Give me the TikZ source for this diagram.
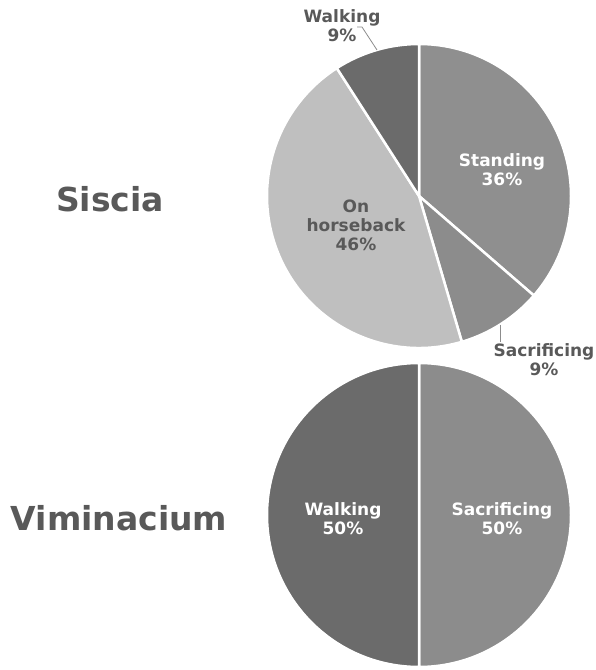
\documentclass[tikz,border=0pt]{standalone}
\usepackage{fontspec}
\setmainfont{DejaVu Sans}
\begin{document}
\begin{tikzpicture}[x=1pt,y=1pt,
  slice/.style={draw=white,line width=2.5pt,line join=round},
  lbl/.style={font=\bfseries\fontsize{17}{19}\selectfont,align=center,inner sep=0pt},
  ttl/.style={font=\bfseries\fontsize{33}{38}\selectfont,text=titlegray,inner sep=0pt},
  leader/.style={draw=leadgray,line width=0.8pt}]
\definecolor{titlegray}{HTML}{595959}
\definecolor{cStand}{HTML}{8F8F8F}
\definecolor{cSacr}{HTML}{8C8C8C}
\definecolor{cHorse}{HTML}{BFBFBF}
\definecolor{cWalk}{HTML}{6B6B6B}
\definecolor{leadgray}{HTML}{8C8C8C}
\useasboundingbox (0,0) rectangle (595,670);
% top pie
\coordinate (c1) at (419,474);
\filldraw[slice,fill=cStand] (c1) -- ++(90:152) arc[start angle=90,end angle=-40.909,radius=152] -- cycle;
\filldraw[slice,fill=cSacr] (c1) -- ++(-40.909:152) arc[start angle=-40.909,end angle=-73.636,radius=152] -- cycle;
\filldraw[slice,fill=cHorse] (c1) -- ++(-73.636:152) arc[start angle=-73.636,end angle=-237.273,radius=152] -- cycle;
\filldraw[slice,fill=cWalk] (c1) -- ++(122.727:152) arc[start angle=122.727,end angle=90,radius=152] -- cycle;
% bottom pie
\coordinate (c2) at (419,155);
\filldraw[slice,fill=cSacr] (c2) -- ++(90:152) arc[start angle=90,end angle=-90,radius=152] -- cycle;
\filldraw[slice,fill=cWalk] (c2) -- ++(-90:152) arc[start angle=-90,end angle=-270,radius=152] -- cycle;
% labels
\node[lbl,text=white] (stand) at (502,500) {Standing\\36\%};
\node[lbl,text=titlegray] (horse) at (356,445) {On\\horseback\\46\%};
\node[lbl,text=titlegray] (walk9) at (342,644) {Walking\\9\%};
\node[lbl,text=titlegray] (sacr9) at (544,310) {Sacrificing\\9\%};
\node[lbl,text=white] (walk50) at (343,151.5) {Walking\\50\%};
\node[lbl,text=white] (sacr50) at (502,151.5) {Sacrificing\\50\%};
% leaders
\coordinate (wl0) at (357,643);
\coordinate (wl1) at (362,643);
\coordinate (wl2) at (377,620);
\draw[leader] (wl0) -- (wl1) -- (wl2);
\coordinate (sl0) at (500,345);
\coordinate (sl1) at (500,328);
\draw[leader] (sl0) -- (sl1);
% titles
\node[ttl] (siscia) at (110,471) {Siscia};
\node[ttl] (vimi) at (119,152) {Viminacium};
\end{tikzpicture}
\end{document}
